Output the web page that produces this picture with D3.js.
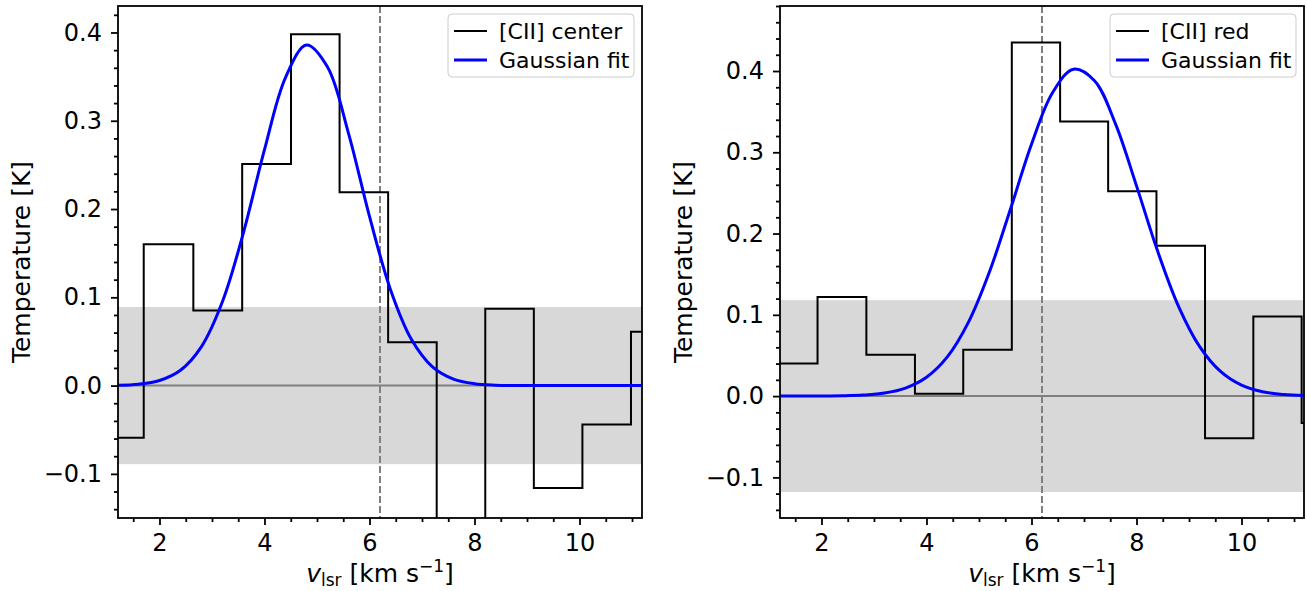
<!DOCTYPE html>
<html>
<head>
<meta charset="utf-8">
<script src="https://cdn.jsdelivr.net/npm/d3@7"></script>
<style>
  body { margin: 0; background: #fff; }
  svg { display: block; }
  svg text { font-family: 'DejaVu Sans', sans-serif; fill: #000; }
  .tick text { font-size: 24px; }
  .axis-label { font-size: 25px; }
  .legend text { font-size: 22px; }
</style>
</head>
<body>
<svg width="1307" height="591"></svg>
<script>
// channel velocities (km/s) and brightness (K)
const velCenter = [1.22, 2.18, 3.11, 4.04, 4.97, 5.89, 6.82, 7.74, 8.67, 9.59, 10.52, 11.44]
const tempCenter = [-0.059, 0.160, 0.085, 0.251, 0.398, 0.219, 0.049, -0.19, 0.087, -0.116, -0.044, 0.061]

const velRed = [0.54, 1.46, 2.39, 3.32, 4.24, 5.16, 6.09, 7.00, 7.92, 8.84, 9.77, 10.68, 11.61]
const tempRed = [0.040, 0.040, 0.122, 0.051, 0.003, 0.057, 0.435, 0.338, 0.252, 0.185, -0.052, 0.098, -0.033]

// gaussian fit curves, sampled
const fitVel = [1.2, 1.6, 2.0, 2.4, 2.8, 3.2, 3.6, 4.0, 4.4, 4.8, 5.2, 5.6, 6.0, 6.4, 6.8,
  7.2, 7.6, 8.0, 8.4, 8.8, 9.2, 9.6, 10.0, 10.4, 10.8, 11.2]
const fitCenter = [0.0004, 0.0016, 0.0058, 0.0174, 0.0442, 0.0952, 0.1734, 0.2673, 0.3490, 0.3857,
  0.3608, 0.2858, 0.1916, 0.1087, 0.0522, 0.0212, 0.0073, 0.0021, 0.0005, 0.0001,
  0, 0, 0, 0, 0, 0]
const fitRed = [0, 0, 0.0001, 0.0004, 0.0013, 0.0037, 0.0098, 0.0231, 0.0485, 0.0910,
  0.1530, 0.2302, 0.3099, 0.3733, 0.4023, 0.3881, 0.3349, 0.2587, 0.1788, 0.1105,
  0.0612, 0.0303, 0.0134, 0.0053, 0.0019, 0.0006]

// rms noise level and systemic velocity
const rmsCenter = 0.089
const rmsRed = 0.118
const vSys = 6.2

const xTicks = [2, 4, 6, 8, 10]
const yTicks = [-0.1, 0.0, 0.1, 0.2, 0.3, 0.4]

const svg = d3.select('svg')

const panelWidth = 524
const panelHeight = 512

const render = (opts) => {
  const { left, top, vel, temp, fit, rms, yMax, name, labelX } = opts

  const xScale = d3.scaleLinear()
    .domain([1.21, 11.19])
    .range([0, panelWidth])

  const yScale = d3.scaleLinear()
    .domain([-0.15, yMax])
    .range([panelHeight, 0])

  const g = svg.append('g')
    .attr('transform', `translate(${left}, ${top})`)

  const clipId = 'clip-' + name
  g.append('clipPath').attr('id', clipId)
    .append('rect')
    .attr('width', panelWidth)
    .attr('height', panelHeight)

  const plot = g.append('g').attr('clip-path', `url(#${clipId})`)

  // noise band
  plot.append('rect')
    .attr('x', 0)
    .attr('width', panelWidth)
    .attr('y', yScale(rms))
    .attr('height', yScale(-rms) - yScale(rms))
    .attr('fill', '#d8d8d8')

  // zero line
  plot.append('line')
    .attr('x1', 0).attr('x2', panelWidth)
    .attr('y1', yScale(0)).attr('y2', yScale(0))
    .attr('stroke', '#808080')
    .attr('stroke-width', 2)

  // systemic velocity
  plot.append('line')
    .attr('x1', xScale(vSys)).attr('x2', xScale(vSys))
    .attr('y1', 0).attr('y2', panelHeight)
    .attr('stroke', '#808080')
    .attr('stroke-width', 2)
    .attr('stroke-dasharray', '7,3')

  const stepLine = d3.line()
    .x((d, i) => xScale(vel[i]))
    .y(d => yScale(d))
    .curve(d3.curveStep)

  plot.append('path')
    .datum(temp)
    .attr('d', stepLine)
    .attr('fill', 'none')
    .attr('stroke', '#000')
    .attr('stroke-width', 2)

  const fitLine = d3.line()
    .x((d, i) => xScale(fitVel[i]))
    .y(d => yScale(d))
    .curve(d3.curveCatmullRom.alpha(0.5))

  plot.append('path')
    .datum(fit)
    .attr('d', fitLine)
    .attr('fill', 'none')
    .attr('stroke', '#0000ff')
    .attr('stroke-width', 3)

  // axes
  g.append('g')
    .attr('transform', `translate(0, ${panelHeight})`)
    .call(d3.axisBottom(xScale).tickValues(xTicks).tickFormat(d3.format('d'))
      .tickSize(7).tickPadding(9))
    .select('.domain').remove()

  const minorX = d3.range(3, 23).map(k => k / 2).filter(v => v % 2 !== 0)
  g.append('g')
    .attr('transform', `translate(0, ${panelHeight})`)
    .call(d3.axisBottom(xScale).tickValues(minorX).tickFormat(() => '').tickSize(4))
    .select('.domain').remove()

  g.append('g')
    .call(d3.axisLeft(yScale).tickValues(yTicks).tickFormat(d3.format('.1f'))
      .tickSize(7).tickPadding(9))
    .select('.domain').remove()

  const minorY = d3.range(-7, Math.floor(yMax * 50) + 1)
    .map(k => k / 50)
    .filter(v => Math.abs(Math.round(v * 10) - v * 10) > 1e-6)
  g.append('g')
    .call(d3.axisLeft(yScale).tickValues(minorY).tickFormat(() => '').tickSize(4))
    .select('.domain').remove()

  g.selectAll('.tick line').attr('stroke', '#000').attr('stroke-width', 1.8)
  g.selectAll('.tick text').attr('font-family', null).attr('font-size', null)

  // frame
  g.append('rect')
    .attr('width', panelWidth)
    .attr('height', panelHeight)
    .attr('fill', 'none')
    .attr('stroke', '#000')
    .attr('stroke-width', 1.8)

  // axis labels
  const xl = g.append('text')
    .attr('class', 'axis-label')
    .attr('x', panelWidth / 2)
    .attr('y', panelHeight + 64)
    .attr('text-anchor', 'middle')
  xl.append('tspan').attr('font-style', 'italic').text('v')
  xl.append('tspan').attr('font-size', 17).attr('dy', 4).text('lsr')
  xl.append('tspan').attr('dy', -4).text(' [km s')
  xl.append('tspan').attr('font-size', 17).attr('dy', -10).text('−1')
  xl.append('tspan').attr('dy', 10).text(']')

  g.append('text')
    .attr('class', 'axis-label')
    .attr('transform', `translate(${labelX}, ${panelHeight / 2}) rotate(-90)`)
    .attr('text-anchor', 'middle')
    .text('Temperature [K]')

  // legend
  const lg = g.append('g')
    .attr('class', 'legend')
    .attr('transform', `translate(${panelWidth - 8 - 186}, 8)`)
  lg.append('rect')
    .attr('width', 186)
    .attr('height', 63)
    .attr('rx', 4)
    .attr('fill', '#fff')
    .attr('fill-opacity', 0.8)
    .attr('stroke', '#cccccc')
    .attr('stroke-width', 1)

  const entries = [
    { label: '[CII] ' + name, color: '#000', width: 2 },
    { label: 'Gaussian fit', color: '#0000ff', width: 3 }
  ]
  entries.forEach((e, i) => {
    const yy = 17 + i * 29
    lg.append('line')
      .attr('x1', 6).attr('x2', 39)
      .attr('y1', yy).attr('y2', yy)
      .attr('stroke', e.color)
      .attr('stroke-width', e.width)
    lg.append('text')
      .attr('x', 51)
      .attr('y', yy)
      .attr('dy', '0.35em')
      .text(e.label)
  })
}

render({ left: 118, top: 6, vel: velCenter, temp: tempCenter, fit: fitCenter,
  rms: rmsCenter, yMax: 0.43, name: 'center', labelX: -88 })
render({ left: 780, top: 6, vel: velRed, temp: tempRed, fit: fitRed,
  rms: rmsRed, yMax: 0.48, name: 'red', labelX: -88 })
</script>
</body>
</html>
